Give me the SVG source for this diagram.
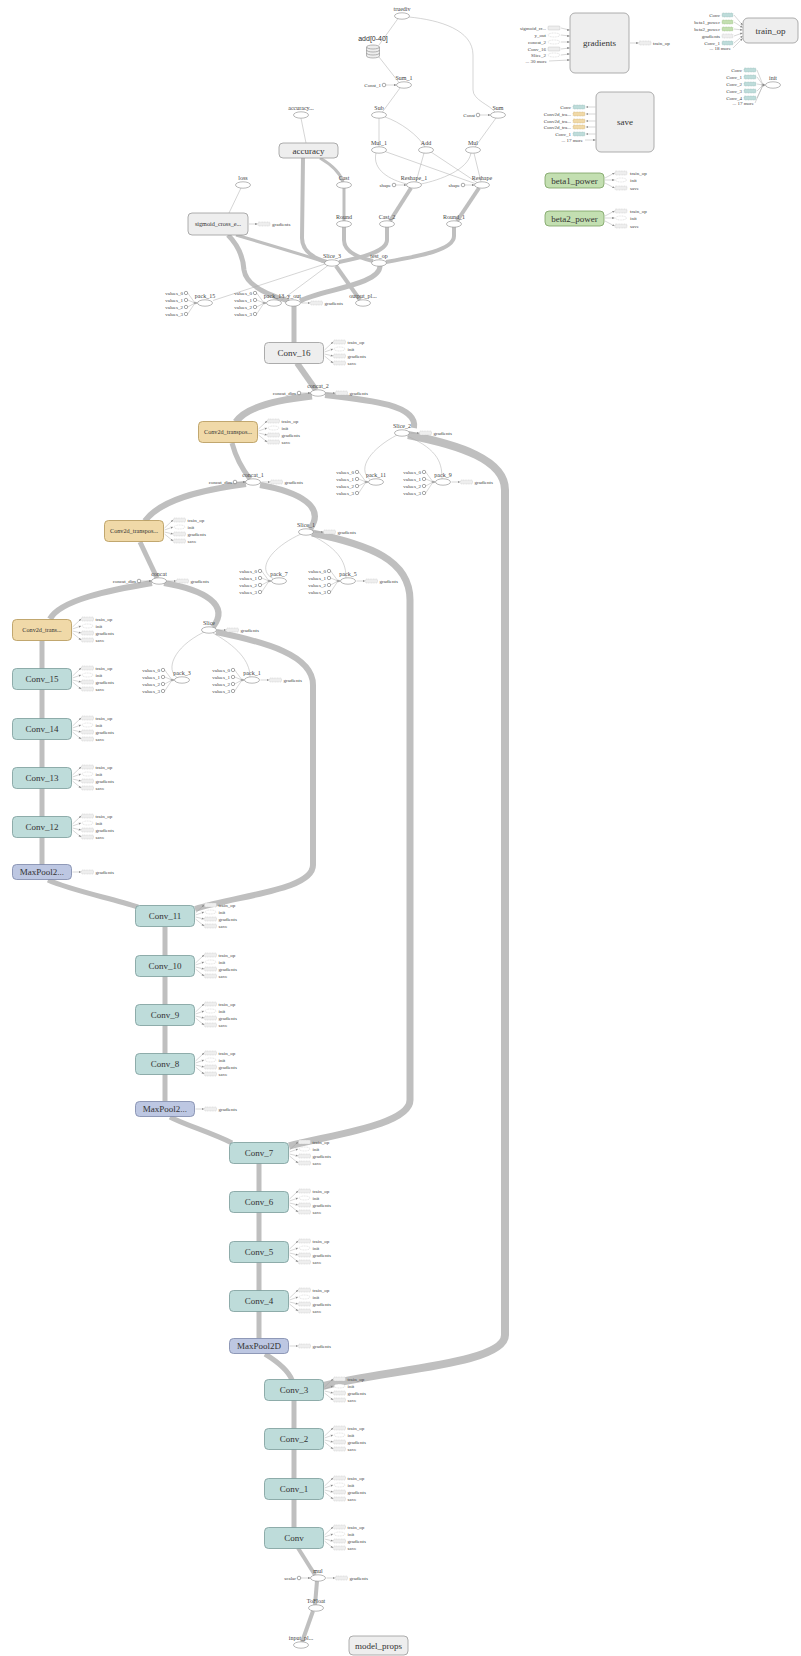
<svg xmlns="http://www.w3.org/2000/svg" xmlns:xlink="http://www.w3.org/1999/xlink" width="801" height="1656" viewBox="0 0 801 1656">
<style>
text{font-family:"Liberation Serif","Times New Roman",serif;fill:#333}
.t5{font-size:5px;fill:#444}
.t6{font-size:6px;fill:#444}
.t9{font-size:9px}
.t65{font-size:6.2px}
.m{text-anchor:middle}
.e{text-anchor:end}
.sans{font-family:"Liberation Sans",Arial,sans-serif}
.ell{fill:#fff;stroke:#888;stroke-width:0.6}
.gbox{fill:#eee;stroke:#999;stroke-width:0.8}
.conv{fill:#bedcda;stroke:#7a9b99;stroke-width:0.8}
.tan{fill:#f0d9a8;stroke:#b39555;stroke-width:0.8}
.pool{fill:#bdc7e2;stroke:#7b86a8;stroke-width:0.8}
.grn{fill:#c3dfb1;stroke:#78a060;stroke-width:0.8}
.E{fill:none;stroke:#bfbfbf}
.tn{fill:none;stroke:#aaa;stroke-width:0.5}
.ax{fill:none;stroke:#999;stroke-width:0.4}
.sb{fill:#eee;stroke:#bbb;stroke-width:0.4;stroke-dasharray:1 0.6}
.sbw{fill:#fff;stroke:#bbb;stroke-width:0.4;stroke-dasharray:1 0.6}
.sbt{fill:#bedcda;stroke:#8fb0ae;stroke-width:0.4;stroke-dasharray:1 0.6}
.sbn{fill:#c3dfb1;stroke:#8fb07a;stroke-width:0.4;stroke-dasharray:1 0.6}
.sbo{fill:#f0d9a8;stroke:#c0a46a;stroke-width:0.4;stroke-dasharray:1 0.6}
.sc{fill:#fff;stroke:#555;stroke-width:0.5}
</style>
<defs>
<marker id="a" viewBox="0 0 6 6" refX="5.5" refY="3" markerWidth="2.6" markerHeight="2.6" markerUnits="userSpaceOnUse" orient="auto"><path d="M0,0.5L6,3L0,5.5z" fill="#888"/></marker>
<g id="aux4">
<path class="ax" d="M1,-3 L9.5,-11" marker-end="url(#a)"/>
<path class="ax" d="M1,-1 L9.5,-4" marker-end="url(#a)"/>
<path class="ax" d="M1,1 L9.5,3" marker-end="url(#a)"/>
<path class="ax" d="M1,3 L9.5,10" marker-end="url(#a)"/>
<rect class="sb" x="10" y="-13" width="12" height="4" rx="1"/>
<ellipse class="sbw" cx="16" cy="-4" rx="5.5" ry="2"/>
<rect class="sb" x="10" y="1" width="12" height="4" rx="1"/>
<rect class="sb" x="10" y="8" width="12" height="4" rx="1"/>
</g>
<g id="aux1">
<path class="ax" d="M1,0 L9.5,0" marker-end="url(#a)"/>
<rect class="sb" x="10" y="-2" width="12" height="4" rx="1"/>
</g>
<g id="vals">
<path class="ax" d="M-17.3,-10 L-10,0 M-17.3,-3 L-10,0 M-17.3,4 L-10,0 M-17.3,11 L-10,0"/>
<path class="ax" d="M-10,0 L-7.5,0" marker-end="url(#a)"/>
<circle cx="-10" cy="0" r="1.3" fill="#aaa"/>
<circle class="sc" cx="-19" cy="-10" r="1.7"/>
<circle class="sc" cx="-19" cy="-3" r="1.7"/>
<circle class="sc" cx="-19" cy="4" r="1.7"/>
<circle class="sc" cx="-19" cy="11" r="1.7"/>
</g>
</defs>
<rect width="801" height="1656" fill="#fff"/>

<g id="edges">
<path class="E" stroke-width="7" d="M312,396 C275,400 245,408 236,422"/>
<path class="E" stroke-width="6" d="M325,395 C370,400 418,405 414,428"/>
<path class="E" stroke-width="6" d="M297,363 L316,390"/>
<path class="E" stroke-width="5" d="M294,306 L294,343"/>
<path class="E" stroke-width="5" d="M232,443 C236,458 243,470 250,479"/>
<path class="E" stroke-width="6" d="M246,484 C200,490 160,500 145,521"/>
<path class="E" stroke-width="6" d="M260,485 C300,492 326,507 310,529"/>
<path class="E" stroke-width="5" d="M157,578 L140,542"/>
<path class="E" stroke-width="6" d="M152,583 C110,590 60,600 50,619"/>
<path class="E" stroke-width="6" d="M164,583 C205,590 230,605 213,627"/>
<path class="E" stroke-width="8" d="M408,435 C460,445 505,460 505,490 L505,1335 C505,1365 380,1370 323,1386"/>
<path class="E" stroke-width="7" d="M312,533 C370,545 410,560 410,600 L410,1100 C410,1125 330,1135 289,1146"/>
<path class="E" stroke-width="6" d="M216,632 C265,642 313,655 313,685 L313,865 C313,890 240,895 195,909"/>
<path class="E" stroke-width="5" d="M42,641 L42,865"/>
<path class="E" stroke-width="5" d="M48,880 C70,890 110,898 138,907"/>
<path class="E" stroke-width="5" d="M165,927 L165,1101"/>
<path class="E" stroke-width="5" d="M170,1117 C185,1125 210,1132 232,1143"/>
<path class="E" stroke-width="5" d="M259,1163 L259,1338"/>
<path class="E" stroke-width="5" d="M265,1354 C278,1362 288,1370 292,1380"/>
<path class="E" stroke-width="5" d="M294,1400 L294,1528"/>
<path class="E" stroke-width="4" d="M298,1548 L315,1575"/>
<path class="E" stroke-width="4" d="M317,1581 L315,1605"/>
<path class="E" stroke-width="4" d="M313,1611 L302,1642"/>
<path class="E" stroke-width="4" d="M303,158 L302,238 C302,252 316,259 327,262"/>
<path class="E" stroke-width="3" d="M320,158 C332,165 340,172 343,182"/>
<path class="E" stroke-width="3" d="M344,188 L344,221"/>
<path class="E" stroke-width="4" d="M344,227 L344,240 C344,252 360,258 373,261"/>
<path class="E" stroke-width="4" d="M387,227 L387,240 C387,252 360,258 339,262"/>
<path class="E" stroke-width="4" d="M411,188 L390,221"/>
<path class="E" stroke-width="4" d="M479,188 L457,221"/>
<path class="E" stroke-width="4" d="M454,227 L454,236 C454,250 420,256 386,262"/>
<path class="E" stroke-width="3" d="M236,235 C270,245 300,254 325,262"/>
<path class="E" stroke-width="5" d="M228,235 C238,245 243,255 244,270 C246,285 268,295 289,301"/>
<path class="E" stroke-width="5" d="M380,266 C380,285 320,290 300,301"/>
<path class="E" stroke-width="4" d="M336,266 L360,300"/>
<path class="tn" d="M398,18.5 L379,45"/>
<path class="tn" d="M409,17 C440,20 473,30 473,55 L473,90 C473,100 490,105 495,112"/>
<path class="tn" d="M379,57 L399,82.5"/>
<path class="tn" d="M400,88 L382,112.5"/>
<path class="tn" d="M379,118.2 L379,146.8"/>
<path class="tn" d="M385,117 C400,122 418,135 425,147"/>
<path class="tn" d="M496,118 L475,147"/>
<path class="tn" d="M376,153 C372,170 390,180 407,184"/>
<path class="tn" d="M385,151.5 L475,183.5"/>
<path class="tn" d="M424,153 L416,182"/>
<path class="tn" d="M431,152 L477,182.5"/>
<path class="tn" d="M471,153 C468,170 440,180 421,184"/>
<path class="tn" d="M474,153.2 L481,181.8"/>
<path class="tn" d="M301,118.2 L306,143"/>
<path class="tn" d="M241,188 L229,213"/>
<path class="tn" d="M325,264 L213,300.5"/>
<path class="tn" d="M328,265.5 L281,300.5"/>
<path class="tn" d="M397,435 C372,448 356,468 370,479.5"/>
<path class="tn" d="M407,436 C440,450 442,465 442,479"/>
<path class="tn" d="M301,534 C270,548 256,570 273,578.5"/>
<path class="tn" d="M310,534.5 C342,550 346,565 346,578"/>
<path class="tn" d="M204,632 C172,648 166,670 177,677.5"/>
<path class="tn" d="M213,633 C243,650 250,665 250,677"/>
</g>

<!-- top cluster -->
<g id="truediv"><ellipse class="ell" cx="402" cy="16" rx="7.5" ry="3.2"/><text class="t6 m" x="402" y="11">truediv</text></g>
<g id="add_0_40">
<text class="sans m" font-size="7" x="373" y="41" fill="#444">add[0-40]</text>
<path d="M366.5,47 v9 a6.5,2 0 0 0 13,0 v-9" fill="#eee" stroke="#888" stroke-width="0.6"/>
<ellipse cx="373" cy="47" rx="6.5" ry="2" fill="#eee" stroke="#888" stroke-width="0.6"/>
<path d="M366.5,50 a6.5,2 0 0 0 13,0 M366.5,53 a6.5,2 0 0 0 13,0" fill="none" stroke="#888" stroke-width="0.6"/>
</g>
<g id="sum_1"><ellipse class="ell" cx="404" cy="85" rx="7.5" ry="3.2"/><text class="t6 m" x="404" y="80">Sum_1</text>
<circle class="sc" cx="384" cy="85" r="1.8"/><path class="ax" d="M386,85 L396.3,85" marker-end="url(#a)"/><text class="t5 e" x="381" y="86.8">Const_1</text></g>
<g id="sub"><ellipse class="ell" cx="379" cy="115" rx="7.5" ry="3.2"/><text class="t6 m" x="379" y="110">Sub</text></g>
<g id="sum"><ellipse class="ell" cx="498" cy="115" rx="7.5" ry="3.2"/><text class="t6 m" x="498" y="110">Sum</text>
<circle class="sc" cx="478" cy="115" r="1.8"/><path class="ax" d="M480,115 L490.3,115" marker-end="url(#a)"/><text class="t5 e" x="475" y="116.8">Const</text></g>
<g id="accuracy_in"><ellipse class="ell" cx="301" cy="115" rx="7.5" ry="3.2"/><text class="t6 m" x="301" y="110">accuracy...</text></g>
<g id="mul_1"><ellipse class="ell" cx="379" cy="150" rx="7.5" ry="3.2"/><text class="t6 m" x="379" y="145">Mul_1</text></g>
<g id="add"><ellipse class="ell" cx="426" cy="150" rx="7.5" ry="3.2"/><text class="t6 m" x="426" y="145">Add</text></g>
<g id="mul_top"><ellipse class="ell" cx="473" cy="150" rx="7.5" ry="3.2"/><text class="t6 m" x="473" y="145">Mul</text></g>
<g id="accuracy"><rect class="gbox" x="279" y="143" width="59" height="15" rx="4"/><text class="t9 m" x="308.5" y="153.5">accuracy</text></g>
<g id="cast"><ellipse class="ell" cx="344" cy="185" rx="7.5" ry="3.2"/><text class="t6 m" x="344" y="180">Cast</text></g>
<g id="reshape_1"><ellipse class="ell" cx="414" cy="185" rx="7.5" ry="3.2"/><text class="t6 m" x="414" y="180">Reshape_1</text>
<circle class="sc" cx="394" cy="185" r="1.8"/><path class="ax" d="M396,185 L406.3,185" marker-end="url(#a)"/><text class="t5 e" x="391" y="186.8">shape</text></g>
<g id="reshape"><ellipse class="ell" cx="482" cy="185" rx="7.5" ry="3.2"/><text class="t6 m" x="482" y="180">Reshape</text>
<circle class="sc" cx="463" cy="185" r="1.8"/><path class="ax" d="M465,185 L474.3,185" marker-end="url(#a)"/><text class="t5 e" x="460" y="186.8">shape</text></g>
<g id="loss"><ellipse class="ell" cx="243" cy="185" rx="7.5" ry="3.2"/><text class="t6 m" x="243" y="180">loss</text></g>
<g id="round"><ellipse class="ell" cx="344" cy="224" rx="7.5" ry="3.2"/><text class="t6 m" x="344" y="219">Round</text></g>
<g id="cast_2"><ellipse class="ell" cx="387" cy="224" rx="7.5" ry="3.2"/><text class="t6 m" x="387" y="219">Cast_2</text></g>
<g id="round_1"><ellipse class="ell" cx="454" cy="224" rx="7.5" ry="3.2"/><text class="t6 m" x="454" y="219">Round_1</text></g>
<g id="sigmoid"><rect class="gbox" x="188" y="213" width="60" height="22" rx="4"/><text class="t65 m" x="218" y="226">sigmoid_cross_e...</text>
<use xlink:href="#aux1" href="#aux1" transform="translate(248,224)"/><text class="t5" x="272" y="225.8">gradients</text></g>
<g id="slice_3"><ellipse class="ell" cx="332" cy="263" rx="7.5" ry="3.2"/><text class="t6 m" x="332" y="258">Slice_3</text></g>
<g id="test_op"><ellipse class="ell" cx="379" cy="263" rx="7.5" ry="3.2"/><text class="t6 m" x="379" y="258">test_op</text></g>

<g id="pack_15" transform="translate(205,303)"><use xlink:href="#vals" href="#vals"/><ellipse class="ell" cx="0" cy="0" rx="7.5" ry="3.2"/><text class="t6 m" x="0" y="-5">pack_15</text>
<text class="t5 e"><tspan x="-22" y="-8.2">values_0</tspan><tspan x="-22" y="-1.2">values_1</tspan><tspan x="-22" y="5.8">values_2</tspan><tspan x="-22" y="12.8">values_3</tspan></text></g>
<g id="pack_13" transform="translate(274,303)"><use xlink:href="#vals" href="#vals"/><ellipse class="ell" cx="0" cy="0" rx="7.5" ry="3.2"/><text class="t6 m" x="0" y="-5">pack_13</text>
<text class="t5 e"><tspan x="-22" y="-8.2">values_0</tspan><tspan x="-22" y="-1.2">values_1</tspan><tspan x="-22" y="5.8">values_2</tspan><tspan x="-22" y="12.8">values_3</tspan></text></g>
<g id="y_out"><ellipse class="ell" cx="293" cy="303" rx="7.5" ry="3.2"/><text class="t6 m" x="294" y="298">y_out</text>
<use xlink:href="#aux1" href="#aux1" transform="translate(300.5,303)"/><text class="t5" x="324.5" y="304.8">gradients</text></g>
<g id="output_pl"><ellipse class="ell" cx="363" cy="303" rx="7.5" ry="3.2"/><text class="t6 m" x="363" y="298">output_pl...</text></g>

<!-- decoder -->
<g id="conv_16"><rect class="gbox" x="264.5" y="342.5" width="59" height="21" rx="4"/><text class="t9 m" x="294" y="356">Conv_16</text>
<g transform="translate(323.5,353)"><use xlink:href="#aux4" href="#aux4"/><text class="t5"><tspan x="24" y="-9.2">train_op</tspan><tspan x="24" y="-2.2">init</tspan><tspan x="24" y="4.8">gradients</tspan><tspan x="24" y="11.8">save</tspan></text></g></g>
<g id="concat_2"><ellipse class="ell" cx="318" cy="393" rx="7.5" ry="3.2"/><text class="t6 m" x="318" y="388">concat_2</text>
<circle class="sc" cx="299" cy="393" r="1.8"/><path class="ax" d="M301,393 L310.3,393" marker-end="url(#a)"/><text class="t5 e" x="296" y="394.8">concat_dim</text>
<use xlink:href="#aux1" href="#aux1" transform="translate(325.5,393)"/><text class="t5" x="349.5" y="394.8">gradients</text></g>
<g id="conv2d_t_a"><rect class="tan" x="198.5" y="421.5" width="59" height="21" rx="4"/><text class="t65 m" x="228" y="434.2">Conv2d_transpos...</text>
<g transform="translate(257.5,432)"><use xlink:href="#aux4" href="#aux4"/><text class="t5"><tspan x="24" y="-9.2">train_op</tspan><tspan x="24" y="-2.2">init</tspan><tspan x="24" y="4.8">gradients</tspan><tspan x="24" y="11.8">save</tspan></text></g></g>
<g id="slice_2"><ellipse class="ell" cx="402" cy="433" rx="7.5" ry="3.2"/><text class="t6 m" x="402" y="428">Slice_2</text>
<use xlink:href="#aux1" href="#aux1" transform="translate(409.5,433)"/><text class="t5" x="433.5" y="434.8">gradients</text></g>
<g id="pack_11" transform="translate(376,482)"><use xlink:href="#vals" href="#vals"/><ellipse class="ell" cx="0" cy="0" rx="7.5" ry="3.2"/><text class="t6 m" x="0" y="-5">pack_11</text>
<text class="t5 e"><tspan x="-22" y="-8.2">values_0</tspan><tspan x="-22" y="-1.2">values_1</tspan><tspan x="-22" y="5.8">values_2</tspan><tspan x="-22" y="12.8">values_3</tspan></text></g>
<g id="pack_9" transform="translate(443,482)"><use xlink:href="#vals" href="#vals"/><ellipse class="ell" cx="0" cy="0" rx="7.5" ry="3.2"/><text class="t6 m" x="0" y="-5">pack_9</text>
<text class="t5 e"><tspan x="-22" y="-8.2">values_0</tspan><tspan x="-22" y="-1.2">values_1</tspan><tspan x="-22" y="5.8">values_2</tspan><tspan x="-22" y="12.8">values_3</tspan></text>
<use xlink:href="#aux1" href="#aux1" transform="translate(7.5,0)"/><text class="t5" x="31.5" y="1.8">gradients</text></g>
<g id="concat_1"><ellipse class="ell" cx="253" cy="482" rx="7.5" ry="3.2"/><text class="t6 m" x="253" y="477">concat_1</text>
<circle class="sc" cx="235" cy="482" r="1.8"/><path class="ax" d="M237,482 L245.3,482" marker-end="url(#a)"/><text class="t5 e" x="232" y="483.8">concat_dim</text>
<use xlink:href="#aux1" href="#aux1" transform="translate(260.5,482)"/><text class="t5" x="284.5" y="483.8">gradients</text></g>
<g id="conv2d_t_b"><rect class="tan" x="104.5" y="520.5" width="59" height="21" rx="4"/><text class="t65 m" x="134" y="533.2">Conv2d_transpos...</text>
<g transform="translate(163.5,531)"><use xlink:href="#aux4" href="#aux4"/><text class="t5"><tspan x="24" y="-9.2">train_op</tspan><tspan x="24" y="-2.2">init</tspan><tspan x="24" y="4.8">gradients</tspan><tspan x="24" y="11.8">save</tspan></text></g></g>
<g id="slice_1"><ellipse class="ell" cx="306" cy="532" rx="7.5" ry="3.2"/><text class="t6 m" x="306" y="527">Slice_1</text>
<use xlink:href="#aux1" href="#aux1" transform="translate(313.5,532)"/><text class="t5" x="337.5" y="533.8">gradients</text></g>
<g id="pack_7" transform="translate(279,581)"><use xlink:href="#vals" href="#vals"/><ellipse class="ell" cx="0" cy="0" rx="7.5" ry="3.2"/><text class="t6 m" x="0" y="-5">pack_7</text>
<text class="t5 e"><tspan x="-22" y="-8.2">values_0</tspan><tspan x="-22" y="-1.2">values_1</tspan><tspan x="-22" y="5.8">values_2</tspan><tspan x="-22" y="12.8">values_3</tspan></text></g>
<g id="pack_5" transform="translate(348,581)"><use xlink:href="#vals" href="#vals"/><ellipse class="ell" cx="0" cy="0" rx="7.5" ry="3.2"/><text class="t6 m" x="0" y="-5">pack_5</text>
<text class="t5 e"><tspan x="-22" y="-8.2">values_0</tspan><tspan x="-22" y="-1.2">values_1</tspan><tspan x="-22" y="5.8">values_2</tspan><tspan x="-22" y="12.8">values_3</tspan></text>
<use xlink:href="#aux1" href="#aux1" transform="translate(7.5,0)"/><text class="t5" x="31.5" y="1.8">gradients</text></g>
<g id="concat"><ellipse class="ell" cx="159" cy="581" rx="7.5" ry="3.2"/><text class="t6 m" x="159" y="576">concat</text>
<circle class="sc" cx="139" cy="581" r="1.8"/><path class="ax" d="M141,581 L151.3,581" marker-end="url(#a)"/><text class="t5 e" x="136" y="582.8">concat_dim</text>
<use xlink:href="#aux1" href="#aux1" transform="translate(166.5,581)"/><text class="t5" x="190.5" y="582.8">gradients</text></g>
<g id="conv2d_t_c"><rect class="tan" x="12.5" y="619.5" width="59" height="21" rx="4"/><text class="t65 m" x="42" y="632.2">Conv2d_trans...</text>
<g transform="translate(71.5,630)"><use xlink:href="#aux4" href="#aux4"/><text class="t5"><tspan x="24" y="-9.2">train_op</tspan><tspan x="24" y="-2.2">init</tspan><tspan x="24" y="4.8">gradients</tspan><tspan x="24" y="11.8">save</tspan></text></g></g>
<g id="slice"><ellipse class="ell" cx="209" cy="630" rx="7.5" ry="3.2"/><text class="t6 m" x="209" y="625">Slice</text>
<use xlink:href="#aux1" href="#aux1" transform="translate(216.5,630)"/><text class="t5" x="240.5" y="631.8">gradients</text></g>
<g id="pack_3" transform="translate(182,680)"><use xlink:href="#vals" href="#vals"/><ellipse class="ell" cx="0" cy="0" rx="7.5" ry="3.2"/><text class="t6 m" x="0" y="-5">pack_3</text>
<text class="t5 e"><tspan x="-22" y="-8.2">values_0</tspan><tspan x="-22" y="-1.2">values_1</tspan><tspan x="-22" y="5.8">values_2</tspan><tspan x="-22" y="12.8">values_3</tspan></text></g>
<g id="pack_1" transform="translate(252,680)"><use xlink:href="#vals" href="#vals"/><ellipse class="ell" cx="0" cy="0" rx="7.5" ry="3.2"/><text class="t6 m" x="0" y="-5">pack_1</text>
<text class="t5 e"><tspan x="-22" y="-8.2">values_0</tspan><tspan x="-22" y="-1.2">values_1</tspan><tspan x="-22" y="5.8">values_2</tspan><tspan x="-22" y="12.8">values_3</tspan></text>
<use xlink:href="#aux1" href="#aux1" transform="translate(7.5,0)"/><text class="t5" x="31.5" y="1.8">gradients</text></g>

<!-- encoder columns -->
<g id="conv_15"><rect class="conv" x="12.5" y="668.5" width="59" height="21" rx="4"/><text class="t9 m" x="42" y="682">Conv_15</text>
<g transform="translate(71.5,679)"><use xlink:href="#aux4" href="#aux4"/><text class="t5"><tspan x="24" y="-9.2">train_op</tspan><tspan x="24" y="-2.2">init</tspan><tspan x="24" y="4.8">gradients</tspan><tspan x="24" y="11.8">save</tspan></text></g></g>
<g id="conv_14"><rect class="conv" x="12.5" y="718.5" width="59" height="21" rx="4"/><text class="t9 m" x="42" y="732">Conv_14</text>
<g transform="translate(71.5,729)"><use xlink:href="#aux4" href="#aux4"/><text class="t5"><tspan x="24" y="-9.2">train_op</tspan><tspan x="24" y="-2.2">init</tspan><tspan x="24" y="4.8">gradients</tspan><tspan x="24" y="11.8">save</tspan></text></g></g>
<g id="conv_13"><rect class="conv" x="12.5" y="767.5" width="59" height="21" rx="4"/><text class="t9 m" x="42" y="781">Conv_13</text>
<g transform="translate(71.5,778)"><use xlink:href="#aux4" href="#aux4"/><text class="t5"><tspan x="24" y="-9.2">train_op</tspan><tspan x="24" y="-2.2">init</tspan><tspan x="24" y="4.8">gradients</tspan><tspan x="24" y="11.8">save</tspan></text></g></g>
<g id="conv_12"><rect class="conv" x="12.5" y="816.5" width="59" height="21" rx="4"/><text class="t9 m" x="42" y="830">Conv_12</text>
<g transform="translate(71.5,827)"><use xlink:href="#aux4" href="#aux4"/><text class="t5"><tspan x="24" y="-9.2">train_op</tspan><tspan x="24" y="-2.2">init</tspan><tspan x="24" y="4.8">gradients</tspan><tspan x="24" y="11.8">save</tspan></text></g></g>
<g id="maxpool_a"><rect class="pool" x="12.5" y="864.5" width="59" height="15" rx="4"/><text class="t9 m" x="42" y="875">MaxPool2...</text>
<use xlink:href="#aux1" href="#aux1" transform="translate(71.5,872)"/><text class="t5" x="95.5" y="873.8">gradients</text></g>

<g id="conv_11"><rect class="conv" x="135.5" y="905.5" width="59" height="21" rx="4"/><text class="t9 m" x="165" y="919">Conv_11</text>
<g transform="translate(194.5,916)"><use xlink:href="#aux4" href="#aux4"/><text class="t5"><tspan x="24" y="-9.2">train_op</tspan><tspan x="24" y="-2.2">init</tspan><tspan x="24" y="4.8">gradients</tspan><tspan x="24" y="11.8">save</tspan></text></g></g>
<g id="conv_10"><rect class="conv" x="135.5" y="955.5" width="59" height="21" rx="4"/><text class="t9 m" x="165" y="969">Conv_10</text>
<g transform="translate(194.5,966)"><use xlink:href="#aux4" href="#aux4"/><text class="t5"><tspan x="24" y="-9.2">train_op</tspan><tspan x="24" y="-2.2">init</tspan><tspan x="24" y="4.8">gradients</tspan><tspan x="24" y="11.8">save</tspan></text></g></g>
<g id="conv_9"><rect class="conv" x="135.5" y="1004.5" width="59" height="21" rx="4"/><text class="t9 m" x="165" y="1018">Conv_9</text>
<g transform="translate(194.5,1015)"><use xlink:href="#aux4" href="#aux4"/><text class="t5"><tspan x="24" y="-9.2">train_op</tspan><tspan x="24" y="-2.2">init</tspan><tspan x="24" y="4.8">gradients</tspan><tspan x="24" y="11.8">save</tspan></text></g></g>
<g id="conv_8"><rect class="conv" x="135.5" y="1053.5" width="59" height="21" rx="4"/><text class="t9 m" x="165" y="1067">Conv_8</text>
<g transform="translate(194.5,1064)"><use xlink:href="#aux4" href="#aux4"/><text class="t5"><tspan x="24" y="-9.2">train_op</tspan><tspan x="24" y="-2.2">init</tspan><tspan x="24" y="4.8">gradients</tspan><tspan x="24" y="11.8">save</tspan></text></g></g>
<g id="maxpool_b"><rect class="pool" x="135.5" y="1101.5" width="59" height="15" rx="4"/><text class="t9 m" x="165" y="1112">MaxPool2...</text>
<use xlink:href="#aux1" href="#aux1" transform="translate(194.5,1109)"/><text class="t5" x="218.5" y="1110.8">gradients</text></g>

<g id="conv_7"><rect class="conv" x="229.5" y="1142.5" width="59" height="21" rx="4"/><text class="t9 m" x="259" y="1156">Conv_7</text>
<g transform="translate(288.5,1153)"><use xlink:href="#aux4" href="#aux4"/><text class="t5"><tspan x="24" y="-9.2">train_op</tspan><tspan x="24" y="-2.2">init</tspan><tspan x="24" y="4.8">gradients</tspan><tspan x="24" y="11.8">save</tspan></text></g></g>
<g id="conv_6"><rect class="conv" x="229.5" y="1191.5" width="59" height="21" rx="4"/><text class="t9 m" x="259" y="1205">Conv_6</text>
<g transform="translate(288.5,1202)"><use xlink:href="#aux4" href="#aux4"/><text class="t5"><tspan x="24" y="-9.2">train_op</tspan><tspan x="24" y="-2.2">init</tspan><tspan x="24" y="4.8">gradients</tspan><tspan x="24" y="11.8">save</tspan></text></g></g>
<g id="conv_5"><rect class="conv" x="229.5" y="1241.5" width="59" height="21" rx="4"/><text class="t9 m" x="259" y="1255">Conv_5</text>
<g transform="translate(288.5,1252)"><use xlink:href="#aux4" href="#aux4"/><text class="t5"><tspan x="24" y="-9.2">train_op</tspan><tspan x="24" y="-2.2">init</tspan><tspan x="24" y="4.8">gradients</tspan><tspan x="24" y="11.8">save</tspan></text></g></g>
<g id="conv_4"><rect class="conv" x="229.5" y="1290.5" width="59" height="21" rx="4"/><text class="t9 m" x="259" y="1304">Conv_4</text>
<g transform="translate(288.5,1301)"><use xlink:href="#aux4" href="#aux4"/><text class="t5"><tspan x="24" y="-9.2">train_op</tspan><tspan x="24" y="-2.2">init</tspan><tspan x="24" y="4.8">gradients</tspan><tspan x="24" y="11.8">save</tspan></text></g></g>
<g id="maxpool_c"><rect class="pool" x="229.5" y="1338.5" width="59" height="15" rx="4"/><text class="t9 m" x="259" y="1349">MaxPool2D</text>
<use xlink:href="#aux1" href="#aux1" transform="translate(288.5,1346)"/><text class="t5" x="312.5" y="1347.8">gradients</text></g>

<g id="conv_3"><rect class="conv" x="264.5" y="1379.5" width="59" height="21" rx="4"/><text class="t9 m" x="294" y="1393">Conv_3</text>
<g transform="translate(323.5,1390)"><use xlink:href="#aux4" href="#aux4"/><text class="t5"><tspan x="24" y="-9.2">train_op</tspan><tspan x="24" y="-2.2">init</tspan><tspan x="24" y="4.8">gradients</tspan><tspan x="24" y="11.8">save</tspan></text></g></g>
<g id="conv_2"><rect class="conv" x="264.5" y="1428.5" width="59" height="21" rx="4"/><text class="t9 m" x="294" y="1442">Conv_2</text>
<g transform="translate(323.5,1439)"><use xlink:href="#aux4" href="#aux4"/><text class="t5"><tspan x="24" y="-9.2">train_op</tspan><tspan x="24" y="-2.2">init</tspan><tspan x="24" y="4.8">gradients</tspan><tspan x="24" y="11.8">save</tspan></text></g></g>
<g id="conv_1"><rect class="conv" x="264.5" y="1478.5" width="59" height="21" rx="4"/><text class="t9 m" x="294" y="1492">Conv_1</text>
<g transform="translate(323.5,1489)"><use xlink:href="#aux4" href="#aux4"/><text class="t5"><tspan x="24" y="-9.2">train_op</tspan><tspan x="24" y="-2.2">init</tspan><tspan x="24" y="4.8">gradients</tspan><tspan x="24" y="11.8">save</tspan></text></g></g>
<g id="conv"><rect class="conv" x="264.5" y="1527.5" width="59" height="21" rx="4"/><text class="t9 m" x="294" y="1541">Conv</text>
<g transform="translate(323.5,1538)"><use xlink:href="#aux4" href="#aux4"/><text class="t5"><tspan x="24" y="-9.2">train_op</tspan><tspan x="24" y="-2.2">init</tspan><tspan x="24" y="4.8">gradients</tspan><tspan x="24" y="11.8">save</tspan></text></g></g>
<g id="mul"><ellipse class="ell" cx="318" cy="1578" rx="7.5" ry="3.2"/><text class="t6 m" x="318" y="1573">mul</text>
<circle class="sc" cx="299" cy="1578" r="1.8"/><path class="ax" d="M301,1578 L310.3,1578" marker-end="url(#a)"/><text class="t5 e" x="296" y="1579.8">scalar</text>
<use xlink:href="#aux1" href="#aux1" transform="translate(325.5,1578)"/><text class="t5" x="349.5" y="1579.8">gradients</text></g>
<g id="tofloat"><ellipse class="ell" cx="316" cy="1608" rx="7.5" ry="3.2"/><text class="t6 m" x="316" y="1603">ToFloat</text></g>
<g id="input_pl"><ellipse class="ell" cx="301" cy="1645" rx="7.5" ry="3.2"/><text class="t6 m" x="301" y="1640">input_pl...</text></g>
<g id="model_props"><rect class="gbox" x="349" y="1636" width="59" height="19" rx="4"/><text class="t9 m" x="378.5" y="1648.5">model_props</text></g>

<!-- top right -->
<g id="gradients">
<rect class="gbox" x="570" y="13" width="59" height="60" rx="5"/><text class="t9 m" x="599.5" y="46">gradients</text>
<rect class="sb" x="548" y="26" width="12" height="4" rx="1" style="stroke-dasharray:none"/>
<ellipse class="sbw" cx="554" cy="35" rx="6" ry="2"/>
<ellipse class="sbw" cx="554" cy="42" rx="6" ry="2"/>
<rect class="sb" x="548" y="47" width="12" height="4" rx="1" style="stroke-dasharray:none"/>
<ellipse class="sbw" cx="554" cy="55" rx="6" ry="2"/>
<path class="ax" d="M561,28 L569.5,30 M561,35 L569.5,36 M561,42 L569.5,42 M561,49 L569.5,48 M561,55 L569.5,54 M549,61 L569.5,60"/>
<path class="ax" d="M568,30 L569.5,30" marker-end="url(#a)"/><path class="ax" d="M568,36 L569.5,36" marker-end="url(#a)"/><path class="ax" d="M568,42 L569.5,42" marker-end="url(#a)"/><path class="ax" d="M568,48 L569.5,48" marker-end="url(#a)"/><path class="ax" d="M568,54 L569.5,54" marker-end="url(#a)"/><path class="ax" d="M568,60 L569.5,60" marker-end="url(#a)"/>
<text class="t5 e"><tspan x="546" y="29.8">sigmoid_cr...</tspan><tspan x="546" y="36.8">y_out</tspan><tspan x="546" y="43.8">concat_2</tspan><tspan x="546" y="50.8">Conv_16</tspan><tspan x="546" y="56.8">Slice_2</tspan><tspan x="547" y="62.8">... 30 more</tspan></text>
<use xlink:href="#aux1" href="#aux1" transform="translate(629,43)"/><text class="t5" x="653" y="44.8">train_op</text>
</g>
<g id="train_op">
<rect class="gbox" x="743" y="18" width="55" height="25" rx="5"/><text class="t9 m" x="770.5" y="34">train_op</text>
<rect class="sbt" x="722" y="13" width="11" height="4" rx="1"/>
<rect class="sbn" x="722" y="20" width="11" height="4" rx="1"/>
<rect class="sbn" x="722" y="27" width="11" height="4" rx="1"/>
<rect class="sb" x="722" y="34" width="11" height="4" rx="1"/>
<rect class="sbt" x="722" y="41" width="11" height="4" rx="1"/>
<path class="ax" d="M734,15 L742.5,25" marker-end="url(#a)"/><path class="ax" d="M734,22 L742.5,27.5" marker-end="url(#a)"/><path class="ax" d="M734,29 L742.5,30" marker-end="url(#a)"/><path class="ax" d="M734,36 L742.5,33" marker-end="url(#a)"/><path class="ax" d="M734,43 L742.5,36" marker-end="url(#a)"/><path class="ax" d="M733,48 L742.5,38.5" marker-end="url(#a)"/>
<text class="t5 e"><tspan x="720" y="16.8">Conv</tspan><tspan x="720" y="23.8">beta1_power</tspan><tspan x="720" y="30.8">beta2_power</tspan><tspan x="720" y="37.8">gradients</tspan><tspan x="720" y="44.8">Conv_1</tspan><tspan x="731" y="49.8">... 18 more</tspan></text>
</g>
<g id="init">
<ellipse class="ell" cx="773" cy="85" rx="7.5" ry="3.2"/><text class="t6 m" x="773" y="80">init</text>
<rect class="sbt" x="744" y="68" width="12" height="4" rx="1"/>
<rect class="sbt" x="744" y="75" width="12" height="4" rx="1"/>
<rect class="sbt" x="744" y="82" width="12" height="4" rx="1"/>
<rect class="sbt" x="744" y="89" width="12" height="4" rx="1"/>
<rect class="sbt" x="744" y="96" width="12" height="4" rx="1"/>
<path class="ax" d="M757,70 L763,85 M757,77 L763,85 M757,84 L763,85 M757,91 L763,85 M757,98 L763,85 M755,103 L763,85"/>
<circle cx="763" cy="85" r="1.5" fill="#aaa"/>
<path class="ax" d="M763,85 L765.3,85" marker-end="url(#a)"/>
<text class="t5 e"><tspan x="742" y="71.8">Conv</tspan><tspan x="742" y="78.8">Conv_1</tspan><tspan x="742" y="85.8">Conv_2</tspan><tspan x="742" y="92.8">Conv_3</tspan><tspan x="742" y="99.8">Conv_4</tspan><tspan x="754" y="104.8">... 17 more</tspan></text>
</g>
<g id="save">
<rect class="gbox" x="596" y="92" width="58" height="60" rx="5"/><text class="t9 m" x="625" y="125">save</text>
<rect class="sbt" x="573" y="105" width="12" height="4" rx="1"/>
<rect class="sbo" x="573" y="112" width="12" height="4" rx="1"/>
<rect class="sbo" x="573" y="119" width="12" height="4" rx="1"/>
<rect class="sbo" x="573" y="125" width="12" height="4" rx="1"/>
<rect class="sbt" x="573" y="132" width="12" height="4" rx="1"/>
<path class="ax" d="M595.5,107 L586,107" marker-end="url(#a)"/><path class="ax" d="M595.5,114 L586,114" marker-end="url(#a)"/><path class="ax" d="M595.5,121 L586,121" marker-end="url(#a)"/><path class="ax" d="M595.5,127 L586,127" marker-end="url(#a)"/><path class="ax" d="M595.5,134 L586,134" marker-end="url(#a)"/><path class="ax" d="M585,140 L595.5,140" marker-end="url(#a)"/>
<text class="t5 e"><tspan x="571" y="108.8">Conv</tspan><tspan x="571" y="115.8">Conv2d_tra...</tspan><tspan x="571" y="122.8">Conv2d_tra...</tspan><tspan x="571" y="128.8">Conv2d_tra...</tspan><tspan x="571" y="135.8">Conv_1</tspan><tspan x="583" y="141.8">... 17 more</tspan></text>
</g>
<g id="beta1_power">
<rect class="grn" x="545" y="173" width="59" height="15" rx="4"/><text class="t9 m" x="574.5" y="183.5">beta1_power</text>
<path class="ax" d="M605,178 L614.5,173" marker-end="url(#a)"/><path class="ax" d="M605,180 L614.5,180" marker-end="url(#a)"/><path class="ax" d="M605,183 L614.5,188" marker-end="url(#a)"/>
<rect class="sb" x="615" y="171" width="12" height="4" rx="1"/><ellipse class="sbw" cx="621" cy="180" rx="5.5" ry="2"/><rect class="sb" x="615" y="186" width="12" height="4" rx="1"/>
<text class="t5"><tspan x="630" y="174.8">train_op</tspan><tspan x="630" y="181.8">init</tspan><tspan x="630" y="189.8">save</tspan></text>
</g>
<g id="beta2_power">
<rect class="grn" x="545" y="211" width="59" height="15" rx="4"/><text class="t9 m" x="574.5" y="221.5">beta2_power</text>
<path class="ax" d="M605,216 L614.5,211" marker-end="url(#a)"/><path class="ax" d="M605,218 L614.5,218" marker-end="url(#a)"/><path class="ax" d="M605,221 L614.5,226" marker-end="url(#a)"/>
<rect class="sb" x="615" y="209" width="12" height="4" rx="1"/><ellipse class="sbw" cx="621" cy="218" rx="5.5" ry="2"/><rect class="sb" x="615" y="224" width="12" height="4" rx="1"/>
<text class="t5"><tspan x="630" y="212.8">train_op</tspan><tspan x="630" y="219.8">init</tspan><tspan x="630" y="227.8">save</tspan></text>
</g>
</svg>
